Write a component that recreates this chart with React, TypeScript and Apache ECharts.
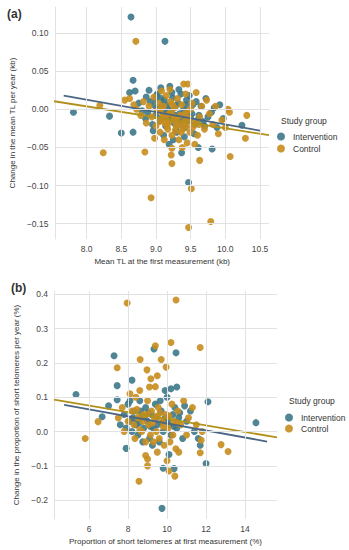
import React, { useEffect, useRef } from "react";
import * as echarts from "echarts";

// ---- Panel (a): mean TL (kb) vs change per year (kb)
const interventionA: number[][] = [
  [8.64, 0.121], [9.13, 0.089], [8.67, 0.038], [7.81, -0.004], [8.33, -0.009], [8.5, -0.031], [8.67, -0.03],
  [9.01, 0.018], [8.9, 0.025], [9.37, -0.057], [9.61, -0.05], [9.81, -0.052], [9.47, -0.096], [10.24, -0.021],
  [8.62, 0.022], [8.7, 0.024], [8.75, 0.008], [8.8, -0.002], [8.85, -0.012], [8.88, -0.005], [8.92, 0.01],
  [8.95, -0.02], [8.98, 0.005], [9.0, -0.008], [9.03, 0.002], [9.05, -0.015], [9.07, 0.028], [9.1, -0.004],
  [9.12, 0.012], [9.14, -0.022], [9.16, 0.006], [9.18, -0.01], [9.2, 0.03], [9.22, -0.002], [9.24, 0.015],
  [9.26, -0.018], [9.28, 0.004], [9.3, -0.03], [9.32, 0.008], [9.34, -0.006], [9.36, 0.02], [9.38, -0.014],
  [9.4, 0.0], [9.42, -0.024], [9.44, 0.012], [9.46, -0.004], [9.48, 0.018], [9.5, -0.012], [9.53, 0.006],
  [9.56, -0.02], [9.58, 0.01], [9.62, -0.008], [9.65, 0.004], [9.68, -0.016], [9.72, 0.014], [9.75, -0.01],
  [9.8, -0.004], [9.84, 0.002], [9.88, -0.024], [9.92, 0.006], [9.97, -0.012], [9.02, 0.02], [8.96, -0.028],
  [9.11, -0.034], [9.25, -0.04], [9.33, 0.026], [9.08, 0.014], [9.55, -0.032], [9.7, -0.022], [9.19, -0.046],
  [9.41, -0.036], [9.06, -0.012], [9.15, -0.006], [9.21, -0.014], [9.27, -0.008], [9.31, -0.016],
  [9.35, -0.02], [9.39, -0.01], [9.45, -0.016], [9.52, -0.006], [9.17, 0.0], [9.29, -0.026], [9.09, 0.006],
  [9.6, -0.014], [9.23, 0.022], [8.86, 0.016], [9.0, 0.013], [9.43, 0.006],
];
const controlA: number[][] = [
  [8.71, 0.089], [8.19, 0.005], [8.24, -0.057], [8.84, -0.056], [8.93, -0.116], [9.23, -0.071], [9.22, -0.06],
  [9.63, -0.067], [10.07, -0.062], [10.29, -0.038], [9.51, -0.104], [9.79, -0.147], [9.47, -0.155], [10.31, -0.008],
  [10.04, 0.0], [10.06, -0.004], [9.4, 0.033], [9.46, 0.033], [9.23, -0.051],
  [8.55, 0.012], [8.62, 0.014], [8.68, 0.006], [8.72, 0.0], [8.78, -0.008], [8.82, 0.01], [8.86, -0.018],
  [8.9, 0.004], [8.94, -0.01], [8.97, 0.016], [9.0, -0.022], [9.02, -0.002], [9.04, 0.008], [9.06, -0.03],
  [9.09, -0.012], [9.11, 0.004], [9.13, -0.018], [9.15, 0.018], [9.17, -0.026], [9.19, -0.006], [9.21, 0.01],
  [9.23, -0.034], [9.25, -0.014], [9.27, 0.002], [9.29, -0.022], [9.31, 0.014], [9.33, -0.04], [9.35, -0.008],
  [9.37, 0.006], [9.39, -0.026], [9.41, -0.016], [9.43, 0.02], [9.45, -0.044], [9.47, -0.002], [9.49, -0.03],
  [9.52, 0.008], [9.55, -0.018], [9.58, 0.022], [9.6, -0.034], [9.63, -0.01], [9.66, 0.004], [9.7, -0.026],
  [9.73, 0.012], [9.77, -0.006], [9.82, -0.02], [9.86, 0.004], [9.9, -0.032], [9.95, -0.014], [10.0, -0.024],
  [9.08, 0.024], [9.2, 0.026], [9.12, -0.04], [9.38, -0.05], [9.56, -0.046], [8.98, -0.038],
  [9.05, -0.016], [9.1, -0.008], [9.14, -0.012], [9.18, -0.018], [9.22, -0.004], [9.26, -0.01], [9.3, -0.014],
  [9.34, -0.02], [9.36, -0.03], [9.42, -0.006], [9.48, -0.012], [9.53, -0.024], [9.16, -0.022], [9.28, -0.028],
  [9.07, 0.0], [9.44, -0.022], [9.5, 0.0], [9.24, 0.006], [9.62, -0.02],
];
const interventionFitA: number[][] = [[7.67, 0.018], [10.5, -0.028]];
const controlFitA: number[][] = [[7.53, 0.0105], [10.63, -0.034]];
const xTicksA = [8.0, 8.5, 9.0, 9.5, 10.0, 10.5];
const yTicksA = [0.1, 0.05, 0.0, -0.05, -0.1, -0.15];

// ---- Panel (b): proportion of short telomeres (%) vs change per year (%)
const interventionB: number[][] = [
  [7.28, 0.221], [7.44, 0.134], [7.44, 0.093], [5.33, 0.108], [9.33, 0.241], [10.46, 0.23], [10.2, 0.125],
  [12.1, 0.087], [14.56, 0.026], [12.0, -0.093], [9.74, -0.224], [7.9, -0.049], [6.67, 0.043], [9.8, -0.107],
  [10.36, -0.108], [10.1, -0.067], [11.7, -0.04], [7.0, 0.075],
  [7.6, 0.02], [7.8, 0.05], [7.9, 0.01], [8.0, 0.08], [8.1, 0.03], [8.2, 0.0], [8.3, 0.06], [8.4, 0.02],
  [8.5, -0.01], [8.6, 0.09], [8.7, 0.04], [8.8, 0.01], [8.9, 0.07], [9.0, 0.03], [9.1, -0.02], [9.2, 0.05],
  [9.3, 0.01], [9.4, 0.08], [9.5, 0.02], [9.6, -0.03], [9.7, 0.06], [9.8, 0.0], [9.9, 0.04], [10.0, 0.1],
  [10.1, 0.02], [10.2, -0.01], [10.3, 0.05], [10.4, 0.07], [10.5, 0.01], [10.6, 0.04], [10.8, -0.02],
  [11.0, 0.03], [11.2, 0.06], [11.4, 0.0], [11.6, -0.02], [8.2, 0.15], [8.1, 0.09], [9.9, 0.12], [10.5, 0.13],
  [8.45, 0.035], [9.25, -0.04], [10.9, 0.075], [9.65, 0.09], [8.75, -0.03],
  [8.25, 0.04], [8.55, 0.025], [8.85, 0.045], [9.15, 0.015], [9.45, 0.04], [9.75, 0.025], [10.05, 0.035],
  [10.35, 0.015], [10.65, 0.055], [8.65, 0.06], [9.05, 0.055],
];
const controlB: number[][] = [
  [7.95, 0.375], [10.46, 0.384], [7.44, 0.186], [9.4, 0.25], [8.62, 0.21], [10.2, 0.26], [11.7, 0.245],
  [9.7, 0.21], [9.95, 0.188], [9.5, 0.163], [9.4, 0.131], [8.97, 0.18], [9.17, 0.154], [12.77, -0.038],
  [13.13, -0.058], [8.56, -0.145], [5.8, -0.02], [6.46, 0.029], [9.0, -0.1], [10.1, -0.115], [10.4, -0.13],
  [11.7, -0.062], [11.75, -0.025], [8.9, -0.07], [9.0, -0.08], [10.0, -0.085],
  [7.5, 0.04], [7.7, 0.07], [7.8, 0.0], [8.0, 0.03], [8.1, 0.11], [8.2, 0.06], [8.3, 0.02], [8.35, -0.02],
  [8.5, 0.04], [8.6, 0.12], [8.7, 0.0], [8.8, 0.05], [8.9, -0.03], [9.0, 0.09], [9.05, 0.02], [9.15, -0.01],
  [9.2, 0.06], [9.3, -0.03], [9.35, 0.04], [9.45, 0.0], [9.55, 0.07], [9.6, -0.02], [9.75, 0.03],
  [9.85, -0.04], [9.95, 0.05], [10.05, 0.01], [10.15, -0.03], [10.25, 0.08], [10.35, 0.03], [10.45, -0.05],
  [10.55, 0.06], [10.7, 0.02], [10.85, 0.09], [11.0, -0.01], [11.1, 0.04], [11.3, 0.07], [11.5, 0.02],
  [11.8, 0.0], [8.4, 0.1], [9.1, 0.13], [10.6, -0.06], [9.5, -0.06],
  [8.45, 0.065], [8.75, 0.03], [8.95, 0.05], [9.25, 0.025], [9.5, 0.045], [9.8, 0.015], [10.1, 0.045],
  [10.3, -0.01], [10.5, 0.025], [8.6, 0.005], [9.65, 0.055],
];
const interventionFitB: number[][] = [[4.72, 0.078], [15.13, -0.029]];
const controlFitB: number[][] = [[4.2, 0.093], [15.64, -0.017]];
const xTicksB = [6, 8, 10, 12, 14];
const yTicksB = [0.4, 0.3, 0.2, 0.1, 0.0, -0.1, -0.2];

const groups = ["Intervention", "Control"];

const FONT = "Liberation Sans, Arial, sans-serif";
const C_INT = "#3c7888";
const C_CON = "#c78d1e";
const L_INT = "#4b6683";
const L_CON = "#b2901a";
const GRID_C = "#e2e2e2";

const minus = (s: string) => s.replace("-", "\u2212");
const onStep = (v: number, step: number) => Math.abs(v / step - Math.round(v / step)) < 1e-6;

export default function App() {
  const ref = useRef<HTMLDivElement>(null);
  useEffect(() => {
    document.body.style.margin = "0";
    const chart = echarts.init(ref.current!, undefined, { renderer: "svg" });
    const tickText = { fontFamily: FONT, fontSize: 8.5, color: "#444" };
    const nameText = { fontFamily: FONT, fontSize: 8, color: "#333" };
    const axisLine = { show: true, lineStyle: { color: GRID_C, width: 1 } };
    const gridLines = (xs: number[], ys: number[]) => ({
      silent: true,
      symbol: ["none", "none"],
      label: { show: false },
      lineStyle: { color: GRID_C, type: "solid", width: 1 },
      data: [...xs.map((v) => ({ xAxis: v })), ...ys.map((v) => ({ yAxis: v }))],
    });
    const fmt = (step: number, dec: number) => (v: number) => {
      if (!onStep(v, step)) return "";
      const r = Math.round(v / step) * step;
      return minus((Math.abs(r) < 1e-9 ? 0 : r).toFixed(dec));
    };
    const scatter = (name: string, data: number[][], color: string, idx: number) => ({
      type: "scatter",
      name,
      xAxisIndex: idx,
      yAxisIndex: idx,
      data,
      symbolSize: 7,
      z: 3,
      itemStyle: { color, opacity: 0.9 },
    });
    const fit = (name: string, data: number[][], color: string, idx: number) => ({
      type: "line",
      name,
      xAxisIndex: idx,
      yAxisIndex: idx,
      data,
      showSymbol: false,
      symbol: "none",
      z: 4,
      lineStyle: { color, width: 1.8 },
      itemStyle: { color },
    });
    chart.setOption({
      animation: false,
      textStyle: { fontFamily: FONT },
      grid: [
        { left: 52, top: 7, width: 217, height: 232 },
        { left: 54, top: 291, width: 223, height: 228 },
      ],
      xAxis: [
        {
          type: "value", gridIndex: 0, min: 7.55, max: 10.63, interval: 0.05,
          axisLine, axisTick: { show: false }, splitLine: { show: false },
          axisLabel: { ...tickText, margin: 5, formatter: fmt(0.5, 1) },
          name: "Mean TL at the first measurement (kb)", nameLocation: "middle", nameGap: 18, nameTextStyle: nameText,
        },
        {
          type: "value", gridIndex: 1, min: 4.2, max: 15.64, interval: 0.2,
          axisLine, axisTick: { show: false }, splitLine: { show: false },
          axisLabel: { ...tickText, margin: 5, formatter: fmt(2, 0) },
          name: "Proportion of short telomeres at first measurement (%)", nameLocation: "middle", nameGap: 18, nameTextStyle: nameText,
        },
      ],
      yAxis: [
        {
          type: "value", gridIndex: 0, min: -0.17, max: 0.134, interval: 0.01,
          axisLine, axisTick: { show: false }, splitLine: { show: false },
          axisLabel: { ...tickText, margin: 7, formatter: fmt(0.05, 2) },
          name: "Change in the mean TL per year (kb)", nameLocation: "middle", nameGap: 32, nameTextStyle: nameText,
        },
        {
          type: "value", gridIndex: 1, min: -0.255, max: 0.41, interval: 0.005,
          axisLine, axisTick: { show: false }, splitLine: { show: false },
          axisLabel: { ...tickText, margin: 6, formatter: fmt(0.1, 1) },
          name: "Change in the proportion of short telomeres per year (%)", nameLocation: "middle", nameGap: 29, nameTextStyle: nameText,
        },
      ],
      legend: [
        {
          data: groups, orient: "vertical", left: 272, top: 127, icon: "circle",
          itemWidth: 14, itemHeight: 8, itemGap: 3, selectedMode: false,
          textStyle: { fontFamily: FONT, fontSize: 8.5, color: "#333" },
        },
        {
          data: groups, orient: "vertical", left: 280, top: 408, icon: "circle",
          itemWidth: 14, itemHeight: 8, itemGap: 2, selectedMode: false,
          textStyle: { fontFamily: FONT, fontSize: 8.5, color: "#333" },
        },
      ],
      graphic: [
        { type: "text", left: 7, top: 8, style: { text: "(a)", fontFamily: FONT, fontSize: 12, fontWeight: "bold", fill: "#333" } },
        { type: "text", left: 11, top: 282, style: { text: "(b)", fontFamily: FONT, fontSize: 12, fontWeight: "bold", fill: "#333" } },
        { type: "text", left: 281, top: 116, style: { text: "Study group", fontFamily: FONT, fontSize: 8.5, fill: "#333" } },
        { type: "text", left: 289, top: 396, style: { text: "Study group", fontFamily: FONT, fontSize: 8.5, fill: "#333" } },
      ],
      series: [
        { type: "line", name: "gridA", xAxisIndex: 0, yAxisIndex: 0, data: [], z: 1, markLine: gridLines(xTicksA, yTicksA) },
        { type: "line", name: "gridB", xAxisIndex: 1, yAxisIndex: 1, data: [], z: 1, markLine: gridLines(xTicksB, yTicksB) },
        scatter(groups[0], interventionA, C_INT, 0),
        scatter(groups[1], controlA, C_CON, 0),
        fit(groups[0], interventionFitA, L_INT, 0),
        fit(groups[1], controlFitA, L_CON, 0),
        scatter(groups[0], interventionB, C_INT, 1),
        scatter(groups[1], controlB, C_CON, 1),
        fit(groups[0], interventionFitB, L_INT, 1),
        fit(groups[1], controlFitB, L_CON, 1),
      ],
    });
    return () => chart.dispose();
  }, []);
  return <div ref={ref} style={{ width: 349, height: 550 }} />;
}
